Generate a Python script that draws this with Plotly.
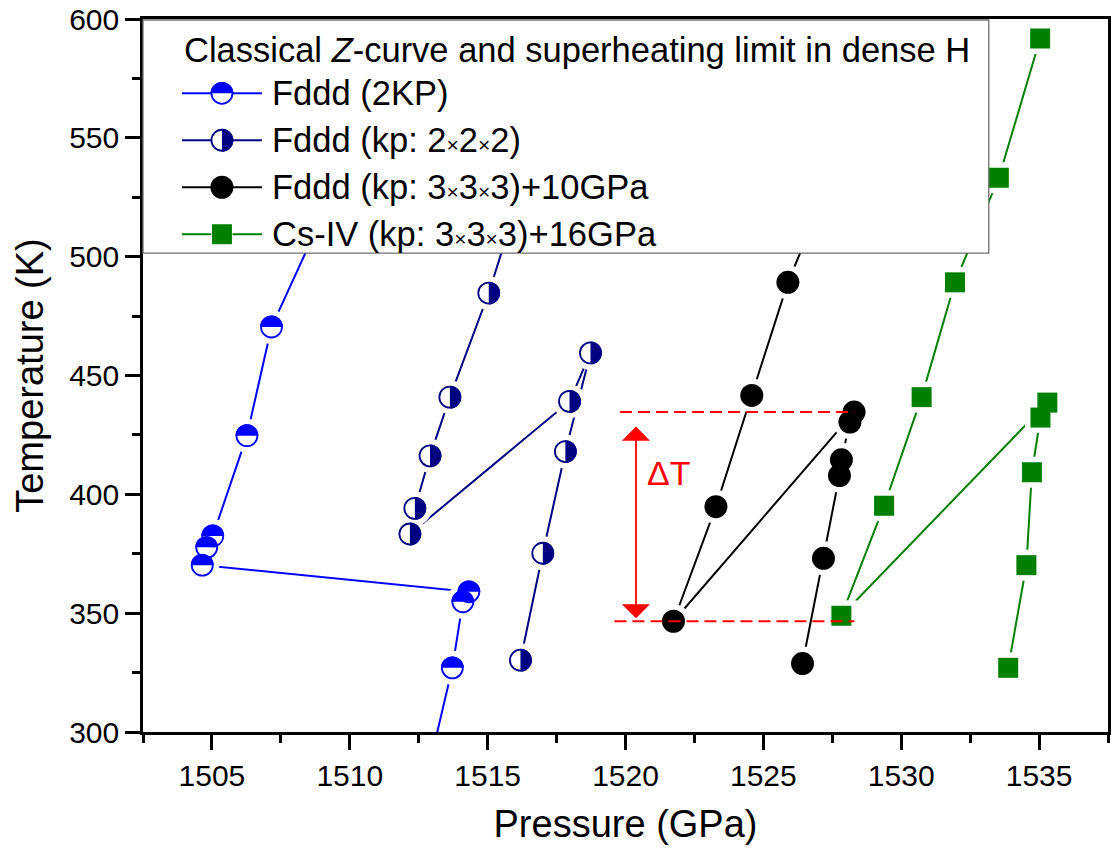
import plotly.graph_objects as go

# ---------------- data ----------------
# Fddd (2KP)  -- traversal order of the connecting line
blue_P = [1512.90, 1513.72, 1514.10, 1514.32, 1504.65, 1504.81, 1505.03, 1506.27, 1507.16, 1509.20]
blue_T = [286.5, 327.0, 354.8, 359.0, 370.2, 377.7, 382.5, 424.7, 470.4, 522.0]

# Fddd (kp: 2x2x2)
navy_P = [1516.19, 1517.00, 1517.82, 1518.73, 1517.97, 1512.18, 1512.36, 1512.91, 1513.63, 1515.04, 1516.00]
navy_T = [330.2, 375.2, 418.0, 459.5, 439.1, 383.3, 394.1, 416.2, 440.9, 484.7, 520.0]

# Fddd (kp: 3x3x3)+10GPa
black_P = [1526.42, 1527.18, 1527.76, 1527.83, 1528.14, 1528.29, 1521.74, 1523.28, 1524.58, 1525.89, 1527.00]
black_T = [328.8, 373.1, 407.9, 414.5, 430.4, 434.6, 346.6, 394.8, 441.6, 489.2, 520.0]

# Cs-IV (kp: 3x3x3)+16GPa
green_P = [1533.88, 1534.54, 1534.74, 1535.05, 1535.30, 1527.83, 1529.38, 1530.74, 1531.95, 1533.54, 1535.04]
green_T = [327.0, 370.2, 409.3, 432.3, 438.6, 348.9, 395.2, 440.9, 489.2, 533.2, 591.8]

# Delta-T annotation
dT_hi_P = [1519.8, 1528.3]
dT_hi_T = [434.6, 434.6]
dT_lo_P = [1519.6, 1528.3]
dT_lo_T = [346.6, 346.6]
dT_arrow_P = 1520.38
dT_arrow_T = [347.2, 428.5]
dT_label_P = 1521.55
dT_label_T = 408.9

x_ticks = [1505, 1510, 1515, 1520, 1525, 1530, 1535]
y_ticks = [300, 350, 400, 450, 500, 550, 600]

legend_title = "Classical <i>Z</i>-curve and superheating limit in dense H"
X = "<span style='font-size:21px'>×</span>"
legend_names = ["Fddd (2KP)",
                f"Fddd (kp: 2{X}2{X}2)",
                f"Fddd (kp: 3{X}3{X}3)+10GPa",
                f"Cs-IV (kp: 3{X}3{X}3)+16GPa"]

# ---------------- styling ----------------
FONT = "Liberation Sans, Arial, sans-serif"
BLUE, NAVY, BLACK, GREEN, RED = "#0000FF", "#000080", "#000000", "#008000", "#FF0000"

series = [
    (blue_P, blue_T, BLUE, "top"),
    (navy_P, navy_T, NAVY, "right"),
    (black_P, black_T, BLACK, "filled"),
    (green_P, green_T, GREEN, "square"),
]

W, H = 1112, 852
ML, MR, MT, MB = 142.7, 3.7, 19.2, 119.6
PW, PH = W - ML - MR, H - MT - MB


def px2paper_x(px):
    return (px - ML) / PW


def px2paper_y(py):
    return (H - MB - py) / PH


K = 0.5523


def half_path(r, kind):
    if kind == "top":
        return (f"M {-r},0 C {-r},{K*r} {-K*r},{r} 0,{r} "
                f"C {K*r},{r} {r},{K*r} {r},0 Z")
    else:  # right half
        return (f"M 0,{r} C {K*r},{r} {r},{K*r} {r},0 "
                f"C {r},{-K*r} {K*r},{-r} 0,{-r} Z")


fig = go.Figure()

# connecting lines
for P, T, c, kind in series:
    fig.add_trace(go.Scatter(x=P, y=T, mode="lines", line=dict(color=c, width=2),
                             showlegend=False, hoverinfo="skip"))
# white gaps around symbols (line-to-symbol gap)
for P, T, c, kind in series:
    fig.add_trace(go.Scatter(x=P, y=T, mode="markers", showlegend=False, hoverinfo="skip",
                             marker=dict(symbol="square" if kind == "square" else "circle",
                                         size=31 if kind == "square" else 34,
                                         color="white", line=dict(width=0))))
# symbols
for P, T, c, kind in series:
    if kind in ("top", "right"):
        mk = dict(symbol="circle", size=21, color="white", line=dict(color=c, width=1.8))
    elif kind == "filled":
        mk = dict(symbol="circle", size=23, color=c, line=dict(width=0))
    else:
        mk = dict(symbol="square", size=20, color=c, line=dict(width=0))
    fig.add_trace(go.Scatter(x=P, y=T, mode="markers", marker=mk, showlegend=False,
                             hoverinfo="skip"))

# Delta T dashed lines
for P, T in ((dT_hi_P, dT_hi_T), (dT_lo_P, dT_lo_T)):
    fig.add_trace(go.Scatter(x=P, y=T, mode="lines", showlegend=False, hoverinfo="skip",
                             line=dict(color=RED, width=2, dash="12px,6px")))

shapes = []
R = 11.4
for P, T, c, kind in series:
    if kind not in ("top", "right"):
        continue
    for p, t in zip(P, T):
        if 300 < t < 501:
            shapes.append(dict(type="path", xref="x", yref="y", xsizemode="pixel",
                               ysizemode="pixel", xanchor=p, yanchor=t,
                               path=half_path(R, kind), fillcolor=c,
                               line=dict(width=0), layer="above"))

# ---------------- legend box (manual) ----------------
LB_L, LB_R, LB_T, LB_B = ML, 989.0, 20.2, 253.3
shapes.append(dict(type="rect", xref="paper", yref="paper",
                   x0=px2paper_x(LB_L), x1=px2paper_x(LB_R),
                   y0=px2paper_y(LB_B), y1=px2paper_y(LB_T),
                   fillcolor="white", line=dict(color="#707070", width=1.3), layer="above"))

annotations = []
annotations.append(dict(text=legend_title, xref="paper", yref="paper",
                        x=px2paper_x(181.5), y=px2paper_y(50.5), xanchor="left",
                        yanchor="middle", showarrow=False,
                        font=dict(family=FONT, size=34.5, color="black")))

row_y = [93.5, 140.5, 187.5, 234.5]
for i, ((P, T, c, kind), name) in enumerate(zip(series, legend_names)):
    yy = px2paper_y(row_y[i])
    for xl, xr in ((181.7, 211.0), (232.4, 261.7)):
        shapes.append(dict(type="line", xref="paper", yref="paper",
                           x0=px2paper_x(xl), x1=px2paper_x(xr), y0=yy, y1=yy,
                           line=dict(color=c, width=2), layer="above"))
    xa = px2paper_x(221.7)
    if kind in ("top", "right"):
        shapes.append(dict(type="circle", xref="paper", yref="paper", xsizemode="pixel",
                           ysizemode="pixel", xanchor=xa, yanchor=yy,
                           x0=-10.5, x1=10.5, y0=-10.5, y1=10.5,
                           fillcolor="white", line=dict(color=c, width=1.8), layer="above"))
        shapes.append(dict(type="path", xref="paper", yref="paper", xsizemode="pixel",
                           ysizemode="pixel", xanchor=xa, yanchor=yy,
                           path=half_path(R, kind), fillcolor=c,
                           line=dict(width=0), layer="above"))
    elif kind == "filled":
        shapes.append(dict(type="circle", xref="paper", yref="paper", xsizemode="pixel",
                           ysizemode="pixel", xanchor=xa, yanchor=yy,
                           x0=-11.5, x1=11.5, y0=-11.5, y1=11.5,
                           fillcolor=c, line=dict(width=0), layer="above"))
    else:
        shapes.append(dict(type="rect", xref="paper", yref="paper", xsizemode="pixel",
                           ysizemode="pixel", xanchor=xa, yanchor=yy,
                           x0=-10, x1=10, y0=-10, y1=10,
                           fillcolor=c, line=dict(width=0), layer="above"))
    annotations.append(dict(text=name, xref="paper", yref="paper",
                            x=px2paper_x(269.5), y=yy, xanchor="left", yanchor="middle",
                            showarrow=False, font=dict(family=FONT, size=34.5, color="black")))

# Delta T arrow and label
annotations.append(dict(x=dT_arrow_P, y=dT_arrow_T[1], ax=dT_arrow_P, ay=dT_arrow_T[0],
                        xref="x", yref="y", axref="x", ayref="y", text="",
                        showarrow=True, arrowside="end+start", arrowhead=1, startarrowhead=1,
                        arrowsize=2.6, startarrowsize=2.6, arrowwidth=1.8, arrowcolor=RED,
                        standoff=0, startstandoff=0))
annotations.append(dict(x=dT_label_P, y=dT_label_T, xref="x", yref="y", text="ΔT",
                        showarrow=False, xanchor="center", yanchor="middle",
                        font=dict(family=FONT, size=34, color=RED)))

axis_common = dict(ticks="outside", ticklen=15, tickwidth=2.5, tickcolor="black",
                   showline=True, linewidth=2.5, linecolor="black", mirror=True,
                   showgrid=False, zeroline=False, automargin=False,
                   tickfont=dict(family=FONT, size=30, color="black"))

fig.update_layout(
    width=W, height=H,
    margin=dict(l=ML, r=MR, t=MT, b=MB, pad=0),
    paper_bgcolor="white", plot_bgcolor="white",
    showlegend=False,
    xaxis=dict(range=[1502.5, 1537.5], tickvals=x_ticks, ticktext=[str(v) for v in x_ticks],
               title=dict(text="Pressure (GPa)", font=dict(family=FONT, size=38, color="black"),
                          standoff=20),
               minor=dict(dtick=2.5, tick0=1502.5, ticklen=8, tickwidth=2.5, ticks="outside",
                          tickcolor="black", showgrid=False),
               **axis_common),
    yaxis=dict(range=[300, 600], tickvals=y_ticks, ticktext=[str(v) for v in y_ticks],
               title=dict(text="Temperature (K)", font=dict(family=FONT, size=38, color="black"),
                          standoff=14),
               minor=dict(dtick=25, tick0=300, ticklen=8, tickwidth=2.5, ticks="outside",
                          tickcolor="black", showgrid=False),
               **axis_common),
    shapes=shapes,
    annotations=annotations,
)

fig.write_html("out.html")
